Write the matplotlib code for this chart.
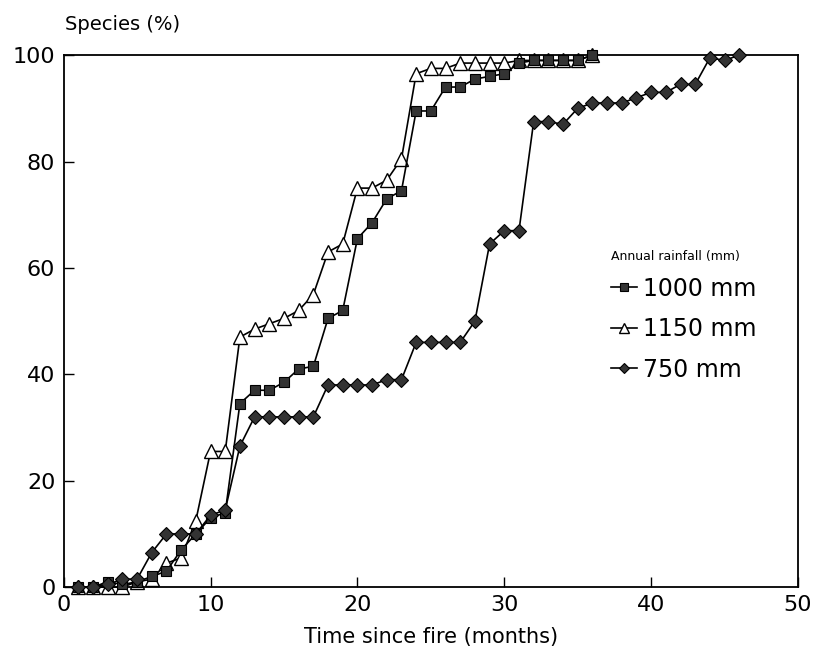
import numpy as np
import matplotlib
matplotlib.use("Agg")
import matplotlib.pyplot as plt

# ------------------------------------------
# data (months since fire, % species)
# ------------------------------------------
months_a = list(range(1, 37))  # 1000 mm and 1150 mm sites
months_b = list(range(1, 47))  # 750 mm site

species_1000 = [0, 0, 1, 0.5, 1, 2, 3, 7, 10, 13, 14, 34.5, 37, 37, 38.5, 41, 41.5, 50.5,
                52, 65.5, 68.5, 73, 74.5, 89.5, 89.5, 94, 94, 95.5, 96, 96.5, 98.5, 99,
                99, 99, 99, 100]
species_1150 = [0, 0, 0, 0, 1, 1.5, 4.5, 5.5, 12.5, 25.5, 25.5, 47, 48.5, 49.5, 50.5, 52,
                55, 63, 64.5, 75, 75, 76.5, 80.5, 96.5, 97.5, 97.5, 98.5, 98.5, 98.5, 98.5,
                99, 99, 99, 99, 99, 100]
species_750 = [0, 0, 0.5, 1.5, 1.5, 6.5, 10, 10, 10, 13.5, 14.5, 26.5, 32, 32, 32, 32, 32,
               38, 38, 38, 38, 39, 39, 46, 46, 46, 46, 50, 64.5, 67, 67, 87.5, 87.5, 87,
               90, 91, 91, 91, 92, 93, 93, 94.5, 94.5, 99.5, 99, 100]

series_labels = ["1000 mm", "1150 mm", "750 mm"]
x_ticks = [0, 10, 20, 30, 40, 50]
y_ticks = [0, 20, 40, 60, 80, 100]

plt.rcParams['font.family'] = ['DejaVu Sans']

fig = plt.figure(figsize=(8.16, 6.56), dpi=100)
ax = fig.add_axes([0.078, 0.105, 0.900, 0.811])

ax.plot(months_a, species_1000, color="black", lw=1.2, marker="s", ms=7,
        mfc="#333333", mec="black", mew=0.8, label=series_labels[0], clip_on=False, zorder=3)
ax.plot(months_a, species_1150, color="black", lw=1.2, marker="^", ms=10,
        mfc="white", mec="black", mew=1.0, label=series_labels[1], clip_on=False, zorder=2)
ax.plot(months_b, species_750, color="black", lw=1.2, marker="D", ms=7,
        mfc="#333333", mec="black", mew=0.8, label=series_labels[2], clip_on=False, zorder=4)

ax.set_xlim(0, 50)
ax.set_ylim(0, 100)
ax.set_xticks(x_ticks)
ax.set_yticks(y_ticks)
ax.tick_params(direction="in", length=7, width=1, labelsize=16)
ax.tick_params(axis="x", pad=6)
ax.tick_params(axis="y", pad=6)
for s in ax.spines.values():
    s.set_linewidth(1.3)

fig.text(0.08, 0.962, "Species (%)", ha="left", va="center", fontsize=14)
fig.text(0.528, 0.029, "Time since fire (months)", ha="center", va="center", fontsize=15)

leg = ax.legend(loc="upper left", bbox_to_anchor=(0.732, 0.652), frameon=False,
                title="Annual rainfall (mm)", title_fontsize=9, fontsize=17,
                handlelength=1.1, handletextpad=0.25, labelspacing=0.7,
                borderaxespad=0, markerscale=0.75)
leg._legend_box.align = "left"
leg._legend_box.sep = 10

plt.savefig("out.png", dpi=100)
plt.close()
